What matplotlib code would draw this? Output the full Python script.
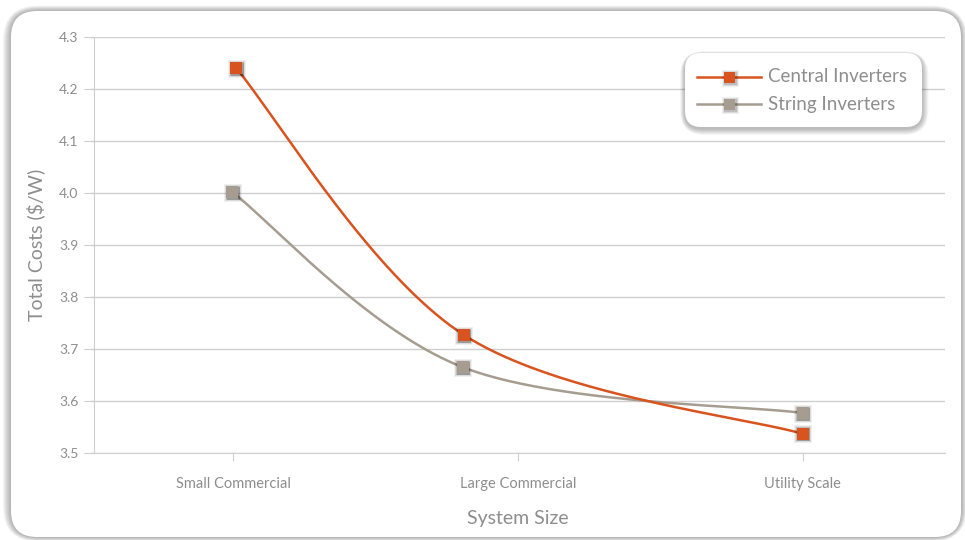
import numpy as np
import matplotlib
matplotlib.use("Agg")
import matplotlib.pyplot as plt
from matplotlib.patches import FancyBboxPatch
from matplotlib.lines import Line2D

categories = ["Small Commercial", "Large Commercial", "Utility Scale"]
series_names = ["Central Inverters", "String Inverters"]
central = [4.24, 3.727, 3.537]
string = [4.002, 3.665, 3.577]
# horizontal positions of the points as drawn (category index units)
central_x = [0.01, 0.81, 2.0]
string_x = [-0.004, 0.806, 2.0]
y_ticks = [3.5, 3.6, 3.7, 3.8, 3.9, 4.0, 4.1, 4.2, 4.3]
colors = ["#D9531E", "#A69D90"]

plt.rcParams['font.family'] = ['Lato', 'DejaVu Sans']
TXT = "#8E8E8E"

W, H = 965, 540
fig = plt.figure(figsize=(W / 100, H / 100), dpi=100)
fig.patch.set_facecolor("white")

def fx(px):
    return px / W

def fy(py):
    return 1 - py / H

# card shadow + card
cx0, cy0, cx1, cy1 = 11, 11, 961, 537
for i in range(9, 0, -1):
    sh = FancyBboxPatch((fx(cx0 - i * 0.9), fy(cy1 + i * 0.5)),
                        fx(cx1 - cx0 + i * 1.6), (cy1 - cy0 + i * 1.1) / H,
                        boxstyle="round,pad=0,rounding_size=%f" % ((26 + i) / W),
                        transform=fig.transFigure, facecolor="#000000",
                        edgecolor="none", alpha=0.035, zorder=-2,
                        mutation_aspect=W / H)
    fig.patches.append(sh)
card = FancyBboxPatch((fx(cx0), fy(cy1)), fx(cx1 - cx0), (cy1 - cy0) / H,
                      boxstyle="round,pad=0,rounding_size=%f" % (26 / W),
                      transform=fig.transFigure, facecolor="white",
                      edgecolor="none", zorder=-1, mutation_aspect=W / H)
fig.patches.append(card)

ax = fig.add_axes([fx(91), fy(453), fx(945 - 91), (453 - 37) / H])
ax.set_facecolor("none")
ax.set_zorder(1)

# cardinal (Catmull-Rom, tension 0) spline, d3-style end handling
def cardinal(xs, ys, n=80):
    P = np.column_stack([xs, ys]).astype(float)
    m = len(P)
    ext = np.vstack([P[0], P, P[-1]])
    out = []
    k = 1.0 / 6.0
    u = np.linspace(0, 1, n)[:, None]
    for i in range(m - 1):
        p0, p1, p2, p3 = ext[i], ext[i + 1], ext[i + 2], ext[i + 3]
        c1 = p1 + k * (p2 - p0)
        c2 = p2 - k * (p3 - p1)
        b = (1 - u) ** 3 * p1 + 3 * (1 - u) ** 2 * u * c1 + 3 * (1 - u) * u ** 2 * c2 + u ** 3 * p2
        out.append(b)
    out = np.vstack(out)
    return out[:, 0], out[:, 1]

def shadow_markers(axis, x, y, size_px, z):
    for grow, a in [(7, 0.06), (5, 0.09), (3, 0.13), (1.5, 0.18)]:
        s = ((size_px + grow) * 0.72) ** 2
        axis.scatter(np.asarray(x) + 0.002, np.asarray(y) - 0.0012, marker="s", s=s,
                     color="#000000", alpha=a, zorder=z, linewidths=0)

for vx, vals, col in zip([string_x, central_x], [string, central], [colors[1], colors[0]]):
    sx, sy = cardinal(vx, vals)
    ax.plot(sx, sy, color=col, lw=1.8, zorder=3, solid_capstyle="round")
    shadow_markers(ax, vx, vals, 11.5, 3.5)
    ax.scatter(vx, vals, marker="s", s=(11.5 * 0.72) ** 2, color=col, zorder=4, linewidths=0)

ax.set_xlim(-0.5, 2.5)
ax.set_ylim(3.5, 4.3)
ax.set_yticks(y_ticks)
ax.set_yticklabels(["%.1f" % v for v in y_ticks])
ax.set_xticks(range(len(categories)))
ax.set_xticklabels(categories)
ax.grid(axis="y", color="#CFCFCF", lw=1)
ax.set_axisbelow(True)
for sp in ["top", "right"]:
    ax.spines[sp].set_visible(False)
ax.spines["left"].set_color("#CFCFCF")
ax.spines["bottom"].set_color("#CFCFCF")
ax.spines["left"].set_position(("outward", -2))
ax.tick_params(axis="y", length=7, color="#CFCFCF", labelcolor=TXT, labelsize=10, pad=4)
ax.tick_params(axis="x", length=6, color="#CFCFCF", labelcolor=TXT, labelsize=10.5, pad=11)
ax.set_xlabel("System Size", color=TXT, fontsize=14, labelpad=14)
ax.set_ylabel("Total Costs ($/W)", color=TXT, fontsize=14, labelpad=10)

# legend box
lx0, ly0, lx1, ly1 = 685, 53, 922, 127
for i in range(8, 0, -1):
    sh = FancyBboxPatch((fx(lx0 - i * 0.6), fy(ly1 + i * 0.8 + 1.5)),
                        fx(lx1 - lx0 + i * 1.4), (ly1 - ly0 + i * 1.2) / H,
                        boxstyle="round,pad=0,rounding_size=%f" % ((16 + i) / W),
                        transform=fig.transFigure, facecolor="#000000",
                        edgecolor="none", alpha=0.035, zorder=5, mutation_aspect=W / H)
    fig.patches.append(sh)
lb = FancyBboxPatch((fx(lx0), fy(ly1)), fx(lx1 - lx0), (ly1 - ly0) / H,
                    boxstyle="round,pad=0,rounding_size=%f" % (16 / W),
                    transform=fig.transFigure, facecolor="white",
                    edgecolor="none", zorder=5.5, mutation_aspect=W / H)
fig.patches.append(lb)
for j, (name, col) in enumerate(zip(series_names, colors)):
    yy = 77 + j * 27
    fig.lines.append(Line2D([fx(697), fx(761)], [fy(yy), fy(yy)], color=col, lw=1.8,
                            transform=fig.transFigure, zorder=6))
    for grow, a in [(6, 0.06), (4, 0.09), (2, 0.13)]:
        fig.lines.append(Line2D([fx(729.5)], [fy(yy + 0.7)], marker="s",
                                markersize=(11 + grow) * 0.72, color="#000000", alpha=a,
                                lw=0, markeredgewidth=0, transform=fig.transFigure,
                                zorder=6.1))
    fig.lines.append(Line2D([fx(729)], [fy(yy)], marker="s", markersize=11 * 0.72,
                            color=col, lw=0, markeredgewidth=0,
                            transform=fig.transFigure, zorder=6.2))
    fig.text(fx(768), fy(yy), name, color=TXT, fontsize=13.5, va="center", ha="left",
             zorder=7)

fig.savefig("out.png", dpi=100, facecolor="white")
